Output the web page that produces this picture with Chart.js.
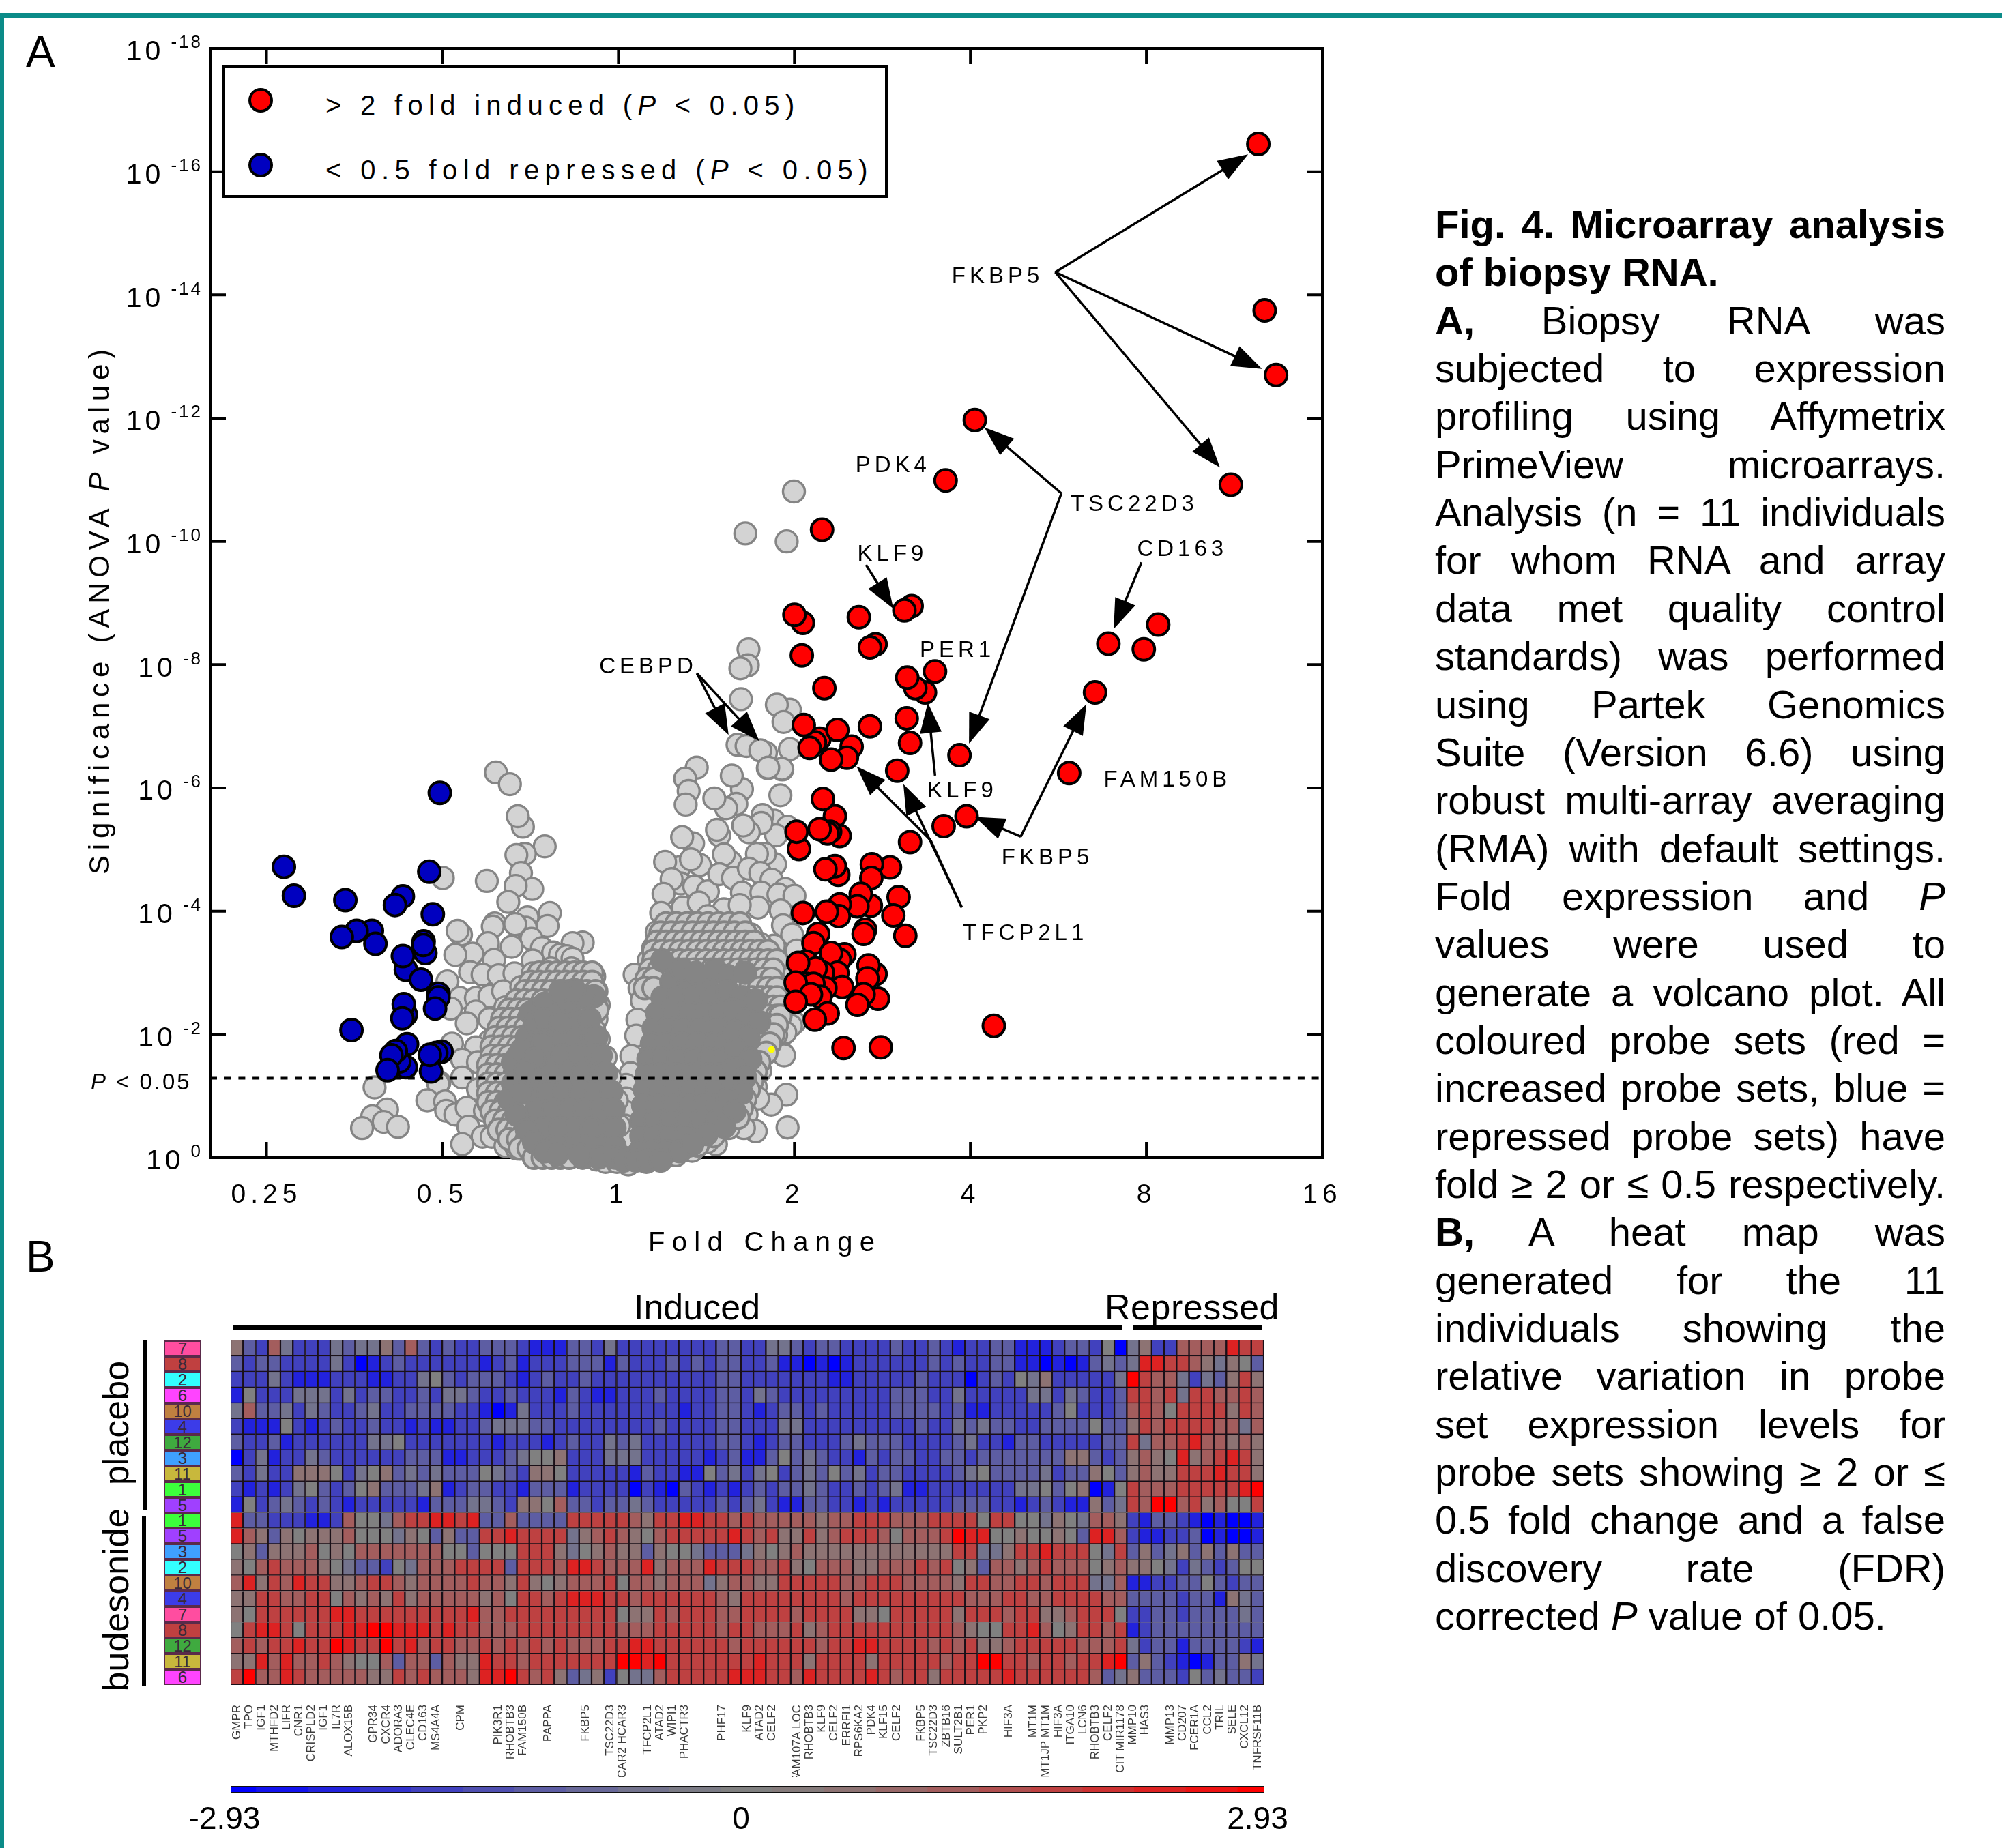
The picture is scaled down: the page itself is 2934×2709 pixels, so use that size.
<!DOCTYPE html>
<html>
<head>
<meta charset="utf-8">
<title>Fig. 4</title>
<script src="https://cdn.jsdelivr.net/npm/chart.js@4/dist/chart.umd.min.js"></script>
<style>
  html, body { margin: 0; padding: 0; background: #fff; }
  body { width: 2934px; height: 2709px; position: relative; overflow: hidden; font-family: "Liberation Sans", Arial, sans-serif; color: #000; }
  canvas, .abs { position: absolute; }
  .line { position: absolute; left: 2103px; width: 748px; font-size: 58px; line-height: 70.35px; height: 70.35px; text-align: justify; text-align-last: justify; }
  .line.end { text-align-last: left; width: 800px; }
  .rot { position: absolute; white-space: nowrap; transform: translate(-50%, -50%) rotate(-90deg); }
  .patch { position: absolute; left: 240px; width: 55px; box-sizing: border-box; border: 2px solid #5a2a4a; font-size: 24px; line-height: 19px; text-align: center; color: #3a2a3a; }
</style>
</head>
<body>
<div class="abs" style="left:0;top:19px;width:2934px;height:8px;background:#0b8b88"></div>
<div class="abs" style="left:0;top:19px;width:6px;height:2690px;background:#0b8b88"></div>
<div class="abs" style="left:38px;top:41px;font-size:64px;line-height:70px">A</div>
<div class="abs" style="left:38px;top:1807px;font-size:64px;line-height:70px">B</div>

<canvas id="volcano" width="2000" height="1900" style="left:0;top:0"></canvas>
<canvas id="heat" width="1514" height="640" style="left:338px;top:1965px"></canvas>
<canvas id="colorbar" width="1620" height="90" style="left:278px;top:2610px"></canvas>

<div class="abs" style="left:326px;top:95px;width:975px;height:195px;box-sizing:border-box;border:4px solid #000;background:#fff"></div>
<div class="abs" style="left:364px;top:129px;width:36px;height:36px;box-sizing:border-box;border:4px solid #000;border-radius:50%;background:#f00"></div>
<div class="abs" style="left:364px;top:224px;width:36px;height:36px;box-sizing:border-box;border:4px solid #000;border-radius:50%;background:#0000c0"></div>
<div class="abs" style="left:477px;top:130px;font-size:40px;line-height:48px;letter-spacing:8.3px;white-space:nowrap">&gt; 2 fold induced (<i>P</i> &lt; 0.05)</div>
<div class="abs" style="left:477px;top:225px;font-size:40px;line-height:48px;letter-spacing:8.4px;white-space:nowrap">&lt; 0.5 fold repressed (<i>P</i> &lt; 0.05)</div>

<div class="rot" style="left:146px;top:893px;font-size:42px;letter-spacing:7.8px">Significance (ANOVA <i>P</i> value)</div>
<div class="abs" style="left:950px;top:1796px;font-size:40px;line-height:48px;letter-spacing:10.3px;white-space:nowrap">Fold Change</div>

<div class="abs" style="left:929px;top:1885px;font-size:52px;line-height:62px">Induced</div>
<div class="abs" style="left:1619px;top:1885px;font-size:52px;line-height:62px;letter-spacing:0.5px">Repressed</div>
<div class="abs" style="left:342px;top:1942px;width:1303px;height:7px;background:#000"></div>
<div class="abs" style="left:1660px;top:1942px;width:190px;height:7px;background:#000"></div>
<div class="abs" style="left:210px;top:1964px;width:6px;height:249px;background:#000"></div>
<div class="abs" style="left:208px;top:2222px;width:6px;height:249px;background:#000"></div>
<div class="rot" style="left:170px;top:2086px;font-size:52px">placebo</div>
<div class="rot" style="left:170px;top:2345px;font-size:52px">budesonide</div>
<div id="patches"></div>
<div id="caption"></div>

<script>
// ---------- VOLCANO DATA (log2 fold change, -log10 P) ----------
const foldTicks = [0.25, 0.5, 1, 2, 4, 8, 16];
const pThreshold = 1.29;

const redPoints = [
  [3.636,16.45],[3.672,13.75],[3.737,12.7],[2.025,11.97],[1.859,10.99],[3.48,10.92],[1.157,10.19],[1.666,8.95],
  [1.625,8.88],[1.366,8.77],[1.048,8.68],[1.0,8.81],[1.461,8.33],[1.429,8.28],[1.042,8.15],[3.067,8.65],
  [2.784,8.34],[2.985,8.25],[1.799,7.89],[1.742,7.55],[1.687,7.62],[1.641,7.79],[1.17,7.62],[2.708,7.55],
  [1.638,7.13],[1.429,7.0],[1.143,6.8],[1.116,6.74],[1.053,7.02],[1.244,6.94],[1.657,6.73],[1.325,6.67],
  [1.086,6.65],[1.938,6.53],[1.298,6.49],[1.208,6.46],[1.584,6.28],[2.561,6.24],[1.23,5.54],[1.162,5.82],
  [1.978,5.54],[1.848,5.38],[1.257,5.22],[1.203,5.29],[1.189,5.26],[1.026,5.01],[1.012,5.29],[1.143,5.33],
  [1.657,5.12],[1.543,4.71],[1.44,4.76],[1.249,4.59],[1.23,4.73],[1.176,4.68],[1.437,4.54],[1.592,4.23],
  [1.434,4.09],[1.377,4.28],[1.358,4.08],[1.257,4.11],[1.562,3.93],[1.252,3.92],[1.184,3.99],[1.048,3.97],
  [1.402,3.7],[1.393,3.63],[1.63,3.6],[1.135,3.63],[1.108,3.48],[1.284,3.3],[1.257,3.21],[1.208,3.32],
  [1.461,2.98],[1.421,3.12],[1.415,2.91],[1.244,3.0],[1.067,3.18],[1.162,3.0],[1.121,3.07],[1.021,3.16],
  [1.271,2.77],[1.176,2.75],[1.067,2.82],[1.108,2.82],[1.007,2.84],[1.475,2.58],[1.393,2.65],[1.148,2.61],
  [1.094,2.65],[1.007,2.53],[1.358,2.48],[1.189,2.34],[1.116,2.24],[2.133,2.14],[1.279,1.78],[1.491,1.79]
];
const bluePoints = [
  [-1.015,5.92],[-1.901,4.72],[-1.844,4.25],[-1.552,4.18],[-1.075,4.64],[-1.225,4.24],[-1.27,4.1],[-1.055,3.95],
  [-1.401,3.68],[-1.381,3.47],[-1.488,3.68],[-1.572,3.58],[-1.107,3.51],[-1.097,3.32],[-1.109,3.45],[-1.208,3.05],
  [-1.225,3.27],[-1.122,2.89],[-1.023,2.66],[-1.023,2.6],[-1.042,2.42],[-1.208,2.32],[-1.22,2.49],[-1.228,2.26],
  [-1.517,2.07],[-1.201,1.84],[-1.208,1.47],[-1.245,1.56],[-1.265,1.73],[-1.29,1.66],[-1.005,1.72],[-1.035,1.7],
  [-1.065,1.4],[-1.072,1.67],[-1.312,1.42]
];
const grayPoints = [
  // top stragglers
  [0.997,10.81],[0.721,10.13],[0.956,10.0],[0.739,8.25],[0.735,7.99],[0.693,7.94],[0.696,7.44],[0.974,7.27],[0.9,7.35],[0.938,7.07],
  [0.677,6.7],[0.728,6.68],[0.838,6.57],[0.806,6.61],[0.974,6.63],[0.849,6.32],[0.931,6.3],
  // right arm, upper
  [0.445,6.33],[0.379,6.15],[0.399,5.95],[0.382,5.73],[0.702,5.98],[0.644,6.2],[0.67,5.74],[0.612,5.67],[0.545,5.83],[0.92,5.88],
  [0.929,6.31],[0.851,6.33],[0.883,5.47],[0.961,5.37],[0.896,5.23],[0.819,5.56],[0.812,5.43],[0.741,5.28],[0.709,5.39],[0.573,5.23],[0.56,5.32],
  [0.424,5.1],[0.362,5.2],[0.89,4.76],[0.832,4.93],[0.787,4.93],[0.638,4.8],[0.599,4.92],[0.463,4.75],[0.347,4.71],[0.412,4.84],[0.265,4.8],
  [0.353,4.45],[0.302,4.52],[0.256,4.28],[0.431,4.4],[0.508,4.32],[0.573,4.6],[0.651,4.54],[0.741,4.69],[0.806,4.62],[0.87,4.51],
  [0.702,4.3],[0.812,4.3],[0.948,4.36],[0.909,4.27],[1.0,4.25],[0.793,4.06],[0.599,4.03],[0.922,4.01],[0.366,4.06],[0.457,4.14],[0.689,4.1],
  [0.243,3.97],[0.508,3.92],[0.315,3.8],[0.418,3.8],[0.625,3.69],[0.754,3.62],[0.935,3.77],[0.987,3.62],[0.218,3.66],[0.883,3.44],[0.806,3.47],
  [0.702,3.51],[0.56,3.62],[0.47,3.55],[0.366,3.47],[0.289,3.36],[1.013,3.36],[0.198,3.4],[0.172,3.2],[0.24,3.07],[0.35,3.07],[0.47,3.07],
  [0.57,3.07],[0.68,3.07],[0.78,3.07],[0.845,3.07],[1.0,3.1],[0.97,2.9],
  // right arm, lower and edges
  [0.092,2.97],[0.12,2.75],[0.22,2.8],[0.33,2.8],[0.45,2.8],[0.56,2.8],[0.67,2.8],[0.883,2.88],[0.728,2.81],[0.625,2.96],[0.133,2.55],
  [0.806,2.7],[0.896,2.66],[0.638,2.66],[0.935,2.48],[0.819,2.44],[0.702,2.48],[0.108,2.24],[1.0,2.19],[0.98,2.14],[0.857,2.22],[0.767,2.25],[0.599,2.33],
  [0.948,2.03],[0.896,1.99],[0.702,2.07],[0.101,1.98],[0.78,1.92],[0.676,1.77],[0.935,1.68],[0.941,1.66],[0.832,1.7],[0.741,1.59],[0.073,1.65],
  [0.806,1.41],[0.65,1.44],[0.069,1.37],[0.78,1.15],[0.715,1.22],[0.65,1.04],[0.043,1.18],[0.043,0.96],[0.954,1.02],[0.868,0.86],[0.793,0.96],
  [0.676,0.8],[0.728,0.7],[0.043,0.74],[0.961,0.49],[0.78,0.43],[0.713,0.48],[0.625,0.48],[0.599,0.67],[0.036,0.52],[0.554,0.22],[0.508,0.26],
  [0.043,0.26],[0.418,0.11],[0.327,0.04],[0.237,0],[0.03,0],[0.159,-0.07],[0.056,-0.11],[0.082,0],[-0.015,0],
  // left arm, upper
  [-0.696,6.25],[-0.617,6.06],[-0.543,5.37],[-0.572,5.54],[-0.419,5.05],[-0.532,4.93],[-0.58,4.91],[-0.554,4.62],[-0.998,4.54],[-0.748,4.49],
  [-0.49,4.36],[-0.584,4.41],[-0.626,4.15],[-0.39,3.97],[-0.517,3.9],[-0.703,3.8],[-0.714,3.75],[-0.526,3.73],[-0.403,3.76],[-0.587,3.79],
  [-0.895,3.62],[-0.914,3.68],[-0.203,3.49],[-0.261,3.48],[-0.494,3.55],[-0.435,3.4],[-0.742,3.48],[-0.607,3.42],[-0.83,3.31],[-0.927,3.29],
  [-0.707,3.21],[-0.487,3.2],[-0.371,3.33],[-0.332,3.29],[-0.293,3.27],[-0.261,3.23],
  // left arm, middle
  [-0.972,2.86],[-0.843,3.01],[-0.772,2.97],[-0.681,2.96],[-0.591,2.99],[-0.487,2.99],[-0.384,3.07],[-0.267,3.07],[-0.138,2.94],
  [-0.901,2.59],[-0.81,2.59],[-0.733,2.62],[-0.655,2.7],[-0.552,2.77],[-0.461,2.81],[-0.358,2.77],[-0.255,2.77],[-0.125,2.7],[-0.112,2.48],
  [-0.953,2.42],[-0.81,2.37],[-0.642,2.44],[-0.552,2.48],[-0.461,2.51],[-0.358,2.51],[-0.255,2.48],[-0.151,2.44],[-0.125,2.25],[-0.733,2.25],
  [-0.862,2.18],[-0.655,2.18],[-0.552,2.18],[-0.448,2.22],[-0.345,2.22],[-0.242,2.22],[-0.138,2.07],
  [-0.946,1.85],[-0.733,1.89],[-0.642,1.92],[-0.539,1.96],[-0.436,1.96],[-0.332,1.96],[-0.229,1.92],[-0.112,1.92],[-0.81,1.79],
  [-0.72,1.59],[-0.617,1.63],[-0.513,1.63],[-0.41,1.63],[-0.306,1.63],[-0.203,1.63],[-0.073,1.63],[-0.888,1.59],[-0.798,1.55],
  [-1.017,1.22],[-1.024,1.2],[-0.888,1.3],[-0.707,1.15],[-0.604,1.22],[-0.5,1.3],[-0.397,1.3],[-0.293,1.3],[-0.19,1.3],[-0.048,1.3],[-0.798,1.11],
  // left arm, bottom
  [-1.386,1.14],[-1.315,0.78],[-1.399,0.67],[-1.334,0.58],[-1.253,0.5],[-1.457,0.48],[-1.086,0.93],[-0.985,0.91],[-0.979,0.76],[-0.927,0.7],
  [-0.862,0.81],[-0.759,0.76],[-0.655,0.81],[-0.552,0.89],[-0.448,0.93],[-0.345,0.93],[-0.242,0.93],[-0.138,0.93],[-0.009,0.93],
  [-0.853,0.5],[-0.772,0.34],[-0.72,0.34],[-0.565,0.52],[-0.461,0.52],[-0.358,0.52],[-0.255,0.52],[-0.151,0.52],[0.004,0.52],
  [-0.888,0.22],[-0.642,0.19],[-0.578,0.15],[-0.487,0.11],[-0.41,0.08],[-0.293,0.04],[-0.203,0],[-0.125,-0.03],[-0.073,-0.07],[-0.009,-0.07]
];
// tightly packed discs between the sparse edge and the solid centre
const grayMidPoints = [
  [-0.45,3.0],[-0.4,3.0],[-0.35,3.0],[-0.3,3.0],[-0.25,3.0],[-0.2,3.0],[-0.15,3.0],
  [-0.5,2.85],[-0.45,2.85],[-0.4,2.85],[-0.35,2.85],[-0.3,2.85],[-0.25,2.85],[-0.2,2.85],[-0.15,2.85],
  [-0.53,2.7],[-0.48,2.7],[-0.43,2.7],[-0.38,2.7],[-0.33,2.7],[-0.28,2.7],[-0.23,2.7],[-0.18,2.7],[-0.13,2.7],
  [-0.58,2.55],[-0.53,2.55],[-0.48,2.55],[-0.43,2.55],[-0.38,2.55],[-0.33,2.55],[-0.28,2.55],[-0.23,2.55],[-0.18,2.55],[-0.13,2.55],
  [-0.62,2.4],[-0.57,2.4],[-0.52,2.4],[-0.47,2.4],[-0.42,2.4],[-0.37,2.4],[-0.32,2.4],[-0.27,2.4],[-0.22,2.4],[-0.17,2.4],[-0.12,2.4],
  [-0.66,2.25],[-0.61,2.25],[-0.56,2.25],[-0.51,2.25],[-0.46,2.25],[-0.41,2.25],[-0.36,2.25],[-0.31,2.25],[-0.26,2.25],[-0.21,2.25],
  [-0.68,2.1],[-0.63,2.1],[-0.58,2.1],[-0.53,2.1],[-0.48,2.1],[-0.43,2.1],[-0.38,2.1],[-0.33,2.1],[-0.28,2.1],[-0.23,2.1],
  [-0.7,1.95],[-0.65,1.95],[-0.6,1.95],[-0.55,1.95],[-0.5,1.95],[-0.45,1.95],[-0.4,1.95],[-0.36,1.95],
  [-0.72,1.8],[-0.67,1.8],[-0.62,1.8],[-0.57,1.8],[-0.52,1.8],[-0.47,1.8],[-0.42,1.8],[-0.36,1.8],
  [-0.72,1.65],[-0.67,1.65],[-0.62,1.65],[-0.57,1.65],[-0.52,1.65],[-0.47,1.65],[-0.42,1.65],
  [-0.74,1.5],[-0.69,1.5],[-0.64,1.5],[-0.59,1.5],[-0.54,1.5],[-0.49,1.5],[-0.44,1.5],
  [-0.74,1.35],[-0.69,1.35],[-0.64,1.35],[-0.59,1.35],[-0.54,1.35],[-0.49,1.35],
  [-0.74,1.2],[-0.69,1.2],[-0.64,1.2],[-0.59,1.2],[-0.54,1.2],[-0.49,1.2],
  [-0.74,1.05],[-0.69,1.05],[-0.64,1.05],[-0.59,1.05],[-0.54,1.05],[-0.49,1.05],
  [-0.74,0.9],[-0.69,0.9],[-0.64,0.9],[-0.59,0.9],[-0.54,0.9],[-0.49,0.9],[-0.44,0.9],
  [-0.72,0.75],[-0.67,0.75],[-0.62,0.75],[-0.57,0.75],[-0.52,0.75],[-0.47,0.75],
  [-0.7,0.6],[-0.65,0.6],[-0.6,0.6],[-0.55,0.6],[-0.5,0.6],[-0.45,0.6],
  [-0.68,0.45],[-0.63,0.45],[-0.58,0.45],[-0.53,0.45],[-0.48,0.45],[-0.43,0.45],
  [-0.62,0.3],[-0.57,0.3],[-0.52,0.3],[-0.47,0.3],[-0.42,0.3],[-0.37,0.3],
  [-0.56,0.15],[-0.51,0.15],[-0.46,0.15],[-0.41,0.15],[-0.36,0.15],
  [-0.48,0.0],[-0.43,0.0],[-0.38,0.0],[-0.33,0.0],[-0.28,0.0],
  [0.27,3.8],[0.33,3.8],[0.39,3.8],[0.45,3.8],[0.51,3.8],[0.57,3.8],[0.63,3.8],[0.69,3.8],
  [0.24,3.65],[0.3,3.65],[0.36,3.65],[0.42,3.65],[0.48,3.65],[0.54,3.65],[0.6,3.65],[0.66,3.65],[0.72,3.65],
  [0.22,3.5],[0.27,3.5],[0.32,3.5],[0.37,3.5],[0.42,3.5],[0.47,3.5],[0.52,3.5],[0.57,3.5],[0.62,3.5],[0.67,3.5],[0.72,3.5],[0.77,3.5],
  [0.2,3.35],[0.25,3.35],[0.3,3.35],[0.35,3.35],[0.4,3.35],[0.45,3.35],[0.5,3.35],[0.55,3.35],[0.6,3.35],[0.65,3.35],[0.7,3.35],[0.75,3.35],[0.8,3.35],[0.85,3.35],
  [0.2,3.2],[0.25,3.2],[0.3,3.2],[0.35,3.2],[0.4,3.2],[0.45,3.2],[0.5,3.2],[0.55,3.2],[0.6,3.2],[0.65,3.2],[0.7,3.2],[0.75,3.2],[0.8,3.2],[0.85,3.2],[0.9,3.2],
  [0.18,3.05],[0.23,3.05],[0.28,3.05],[0.33,3.05],[0.38,3.05],[0.43,3.05],[0.48,3.05],[0.53,3.05],[0.58,3.05],[0.63,3.05],[0.68,3.05],[0.73,3.05],[0.78,3.05],[0.83,3.05],[0.88,3.05],
  [0.16,2.9],[0.2,2.9],[0.52,2.9],[0.57,2.9],[0.62,2.9],[0.67,2.9],[0.72,2.9],[0.77,2.9],[0.82,2.9],[0.87,2.9],
  [0.15,2.75],[0.2,2.75],[0.55,2.75],[0.6,2.75],[0.65,2.75],[0.7,2.75],[0.75,2.75],[0.8,2.75],[0.85,2.75],[0.9,2.75],
  [0.56,2.6],[0.61,2.6],[0.66,2.6],[0.71,2.6],[0.76,2.6],[0.81,2.6],[0.86,2.6],[0.9,2.6],
  [0.58,2.45],[0.63,2.45],[0.68,2.45],[0.73,2.45],[0.78,2.45],[0.83,2.45],[0.88,2.45],[0.92,2.45],
  [0.6,2.3],[0.65,2.3],[0.7,2.3],[0.75,2.3],[0.8,2.3],[0.85,2.3],[0.9,2.3],[0.92,2.3],
  [0.6,2.15],[0.65,2.15],[0.7,2.15],[0.75,2.15],[0.8,2.15],[0.85,2.15],[0.9,2.15],
  [0.62,2.0],[0.67,2.0],[0.72,2.0],[0.77,2.0],[0.82,2.0],[0.88,2.0],
  [0.62,1.85],[0.67,1.85],[0.72,1.85],[0.77,1.85],[0.82,1.85],[0.86,1.85],
  [0.62,1.7],[0.67,1.7],[0.72,1.7],[0.77,1.7],[0.84,1.7],
  [0.62,1.55],[0.67,1.55],[0.72,1.55],[0.77,1.55],[0.8,1.55],
  [0.6,1.4],[0.65,1.4],[0.7,1.4],[0.75,1.4],[0.78,1.4],
  [0.58,1.25],[0.63,1.25],[0.68,1.25],[0.73,1.25],[0.76,1.25],
  [0.58,1.1],[0.63,1.1],[0.68,1.1],[0.74,1.1],
  [0.56,0.95],[0.61,0.95],[0.66,0.95],[0.72,0.95],
  [0.55,0.8],[0.6,0.8],[0.65,0.8],[0.7,0.8],
  [0.53,0.65],[0.58,0.65],[0.63,0.65],[0.68,0.65],
  [0.5,0.5],[0.55,0.5],[0.6,0.5],
  [0.44,0.35],[0.49,0.35],[0.54,0.35],
  [0.4,0.2],[0.45,0.2]
];
// where the probe sets pile up the outlines merge into solid grey
const grayCorePoints = [
  [-0.19,2.62],[-0.14,2.62],[-0.255,2.25],[-0.164,2.25],[-0.332,1.96],[-0.242,1.96],[-0.151,1.96],[-0.125,1.96],
  [-0.41,1.66],[-0.319,1.66],[-0.229,1.66],[-0.125,1.66],[-0.1,1.66],[-0.474,1.37],[-0.384,1.37],[-0.293,1.37],[-0.203,1.37],[-0.099,1.37],[-0.07,1.37],
  [-0.487,1.07],[-0.397,1.07],[-0.306,1.07],[-0.216,1.07],[-0.125,1.07],[-0.048,1.07],[-0.04,1.07],
  [-0.461,0.78],[-0.371,0.78],[-0.28,0.78],[-0.19,0.78],[-0.099,0.78],[-0.028,0.78],
  [-0.423,0.48],[-0.332,0.48],[-0.242,0.48],[-0.151,0.48],[-0.06,0.48],[-0.022,0.48],
  [-0.332,0.19],[-0.242,0.19],[-0.151,0.19],[-0.06,0.19],[-0.022,0.19],[-0.203,0],[-0.112,0],[-0.022,0],
  [0.3,2.85],[0.4,2.85],[0.5,2.85],[0.25,2.6],[0.34,2.6],[0.43,2.6],[0.53,2.6],[0.22,2.35],[0.31,2.35],[0.4,2.35],[0.49,2.35],[0.58,2.35],
  [0.2,2.1],[0.28,2.1],[0.37,2.1],[0.46,2.1],[0.55,2.1],[0.19,1.85],[0.27,1.85],[0.36,1.85],[0.45,1.85],[0.54,1.85],[0.6,1.85],
  [0.17,1.6],[0.25,1.6],[0.34,1.6],[0.43,1.6],[0.52,1.6],[0.6,1.6],[0.16,1.35],[0.24,1.35],[0.33,1.35],[0.42,1.35],[0.51,1.35],[0.58,1.35],
  [0.15,1.1],[0.23,1.1],[0.32,1.1],[0.41,1.1],[0.5,1.1],[0.56,1.1],[0.14,0.85],[0.22,0.85],[0.31,0.85],[0.4,0.85],[0.49,0.85],[0.55,0.85],
  [0.13,0.6],[0.21,0.6],[0.3,0.6],[0.39,0.6],[0.47,0.6],[0.13,0.35],[0.2,0.35],[0.29,0.35],[0.38,0.35],[0.12,0.1],[0.2,0.1],[0.28,0.1],[0.35,0.1],
  [0.03,-0.05],[0.1,-0.05],[0.17,-0.05],[0.24,-0.05],
  // irregular dark patches reaching out from the centre
  [-0.5,2.35],[-0.42,2.5],[-0.35,2.35],[-0.28,2.55],[-0.52,1.95],[-0.45,2.1],[-0.6,1.55],[-0.55,1.75],[-0.43,1.85],[-0.48,1.6],[-0.6,1.2],[-0.53,1.4],[-0.62,0.95],[-0.55,1.05],
  [-0.58,0.7],[-0.52,0.45],[-0.48,0.25],[-0.42,0.1],[-0.35,0.05],[-0.22,0.05],[-0.2,2.6],[-0.25,2.72],[-0.33,2.7],
  [-0.47,2.2],[-0.42,2.25],[-0.33,2.2],
  [0.25,3.2],[0.36,3.05],[0.44,3.0],[0.55,3.05],[0.62,2.95],[0.72,3.0],[0.62,2.7],[0.7,2.6],[0.78,2.55],[0.65,2.4],[0.72,2.25],[0.8,2.2],
  [0.66,2.05],[0.74,1.95],[0.67,1.75],[0.75,1.6],[0.66,1.45],[0.72,1.3],[0.64,1.2],[0.7,1.05],[0.62,0.95],[0.66,0.75],[0.56,0.6],[0.5,0.38],
  [0.42,0.22],[0.6,0.5]
];
const yellowPoints = [[0.87,1.755]];

// ---------- ANNOTATIONS ----------
// [fromX, fromY, toX, toY, hasHead]
const arrowLines = [
  [2.482,14.37,3.578,16.28,1],[2.482,14.37,3.657,12.8,1],[2.482,14.37,3.418,11.2,1],
  [2.517,10.78,2.079,11.85,1],[2.517,10.78,1.992,6.72,1],
  [1.407,9.62,1.562,8.91,1],[1.799,6.2,1.758,7.38,1],
  [1.951,4.06,1.619,6.06,1],[1.951,4.06,1.774,5.15,0],[1.774,5.15,1.353,6.35,1],
  [0.446,7.86,0.626,6.86,1],[0.446,7.86,0.8,6.76,1],
  [2.286,5.21,2.025,5.53,1],[2.286,5.21,2.659,7.36,1],
  [2.972,9.66,2.814,8.58,1]
];
// [text, x, y of baseline]
const geneNotes = [
  ["FKBP5",1.894,14.19],["PDK4",1.347,11.13],["TSC22D3",2.569,10.5],["KLF9",1.358,9.69],["CD163",2.947,9.76],["PER1",1.712,8.12],
  ["CEBPD",-0.109,7.864],["KLF9",1.755,5.84],["FAM150B",2.757,6.02],["FKBP5",2.177,4.76],["TFCP2L1",1.957,3.53]
];

// ---------- HEAT MAP DATA (levels, one level = 2.93 / 5) ----------
const levelStep = 2.93 / 5;
const rowIds = [7,8,2,6,10,4,12,3,11,1,5,1,5,3,2,10,4,7,8,12,11,6];
const idColors = {1:"#3cff3c",2:"#33ffff",3:"#3fa0ff",4:"#3c3ce8",5:"#a040ff",6:"#ff44ff",7:"#ff4da0",8:"#c04040",10:"#c08040",11:"#c8b83c",12:"#3faa3f"};
const geneLabels = ["GMPR","TPO","IGF1","MTHFD2","LIFR","CNR1","CRISPLD2","IGF1","IL7R","ALOX15B","","GPR34","CXCR4","ADORA3","CLEC4E","CD163","MS4A4A","","CPM","","","PIK3R1","RHOBTB3","FAM150B","","PAPPA","","","FKBP5","","TSC22D3","HCAR2 HCAR3","","TFCP2L1","ATAD2","WIPI1","PHACTR3","","","PHF17","","KLF9","ATAD2","CELF2","","FAM107A LOC","RHOBTB3","KLF9","CELF2","ERRFI1","RPS6KA2","PDK4","KLF15","CELF2","","FKBP5","TSC22D3","ZBTB16","SULT2B1","PER1","PKP2","","HIF3A","","MT1M","MT1JP MT1M","HIF3A","ITGA10","LCN6","RHOBTB3","CELF2","CIT MIR1178","MMP10","HAS3","","MMP13","CD207","FCER1A","CCL2","TRIL","SELE","CXCL12","TNFRSF11B"];
const heatRows = [
  [1,-2,-3,2,-1,-3,-3,-3,-1,-2,-1,-1,1,-2,2,-2,-3,-2,-3,-3,-2,-2,-2,-3,-4,-4,-4,-2,-2,-3,-1,-3,-3,-3,-3,-3,-3,-3,-3,-2,-2,-3,
   -3,-1,-1,-2,-3,-2,-2,-3,-3,-3,-3,-2,-3,-3,-2,-3,-4,-3,-3,-2,-2,-4,-4,-4,-3,-2,-2,-3,0,-5,-1,1,-3,-3,2,2,2,2,4,3,3],
  [-2,-3,-2,-2,-3,-3,-3,-3,-1,-3,-5,-4,-3,-2,-3,-3,-3,-3,-3,-3,-4,-3,-2,-4,-3,-3,-3,-2,-2,-2,-4,-2,-3,-3,-3,-2,-3,-2,-3,-2,-2,-3,
   -3,-2,-4,-4,-5,-4,-5,-4,-3,-3,-3,-3,-3,-3,-2,-3,-2,-3,-3,-2,-2,-4,-4,-5,-4,-5,-4,-2,-1,-2,-1,4,4,3,3,2,1,-1,1,0,-2],
  [-3,-3,-3,-1,-3,-4,-4,-4,-3,-3,-3,-4,-4,-3,-3,-1,0,-2,-3,-2,-2,-2,-3,-4,-3,-2,-3,-3,-2,-3,-3,-3,-3,-3,-3,-3,-3,-3,-3,-2,-2,-3,
   -3,-3,-3,-3,-3,-3,-4,-4,-3,-3,-3,-3,-3,-2,-3,-3,-3,-5,-3,-2,-3,0,-1,1,-3,-3,-3,-3,-3,-1,5,3,2,2,-1,-3,-1,-2,1,3,1],
  [-4,0,-3,-3,-3,-1,-1,-1,-3,-1,-3,-2,-2,-3,-3,-2,-3,-1,-1,-2,-3,-3,-2,-3,-3,-3,-4,-2,-3,-4,-4,-3,-3,-3,-2,-3,-3,-3,-3,-2,-2,-3,
   -1,-2,-3,-3,-3,-3,-3,-3,-3,-3,-3,-2,-2,-2,-3,-3,-1,-3,-3,-3,-3,-3,-1,-1,-3,-1,-2,-3,-3,-2,3,3,2,3,-1,3,3,2,2,3,2],
  [-1,2,-2,-2,-1,-3,-1,-2,-3,-3,-2,-1,-3,-3,-2,-2,-2,-2,-3,-3,-4,-5,-4,-1,-3,-3,-3,-2,-3,-3,-3,-3,-3,-3,-3,-3,-4,-3,-3,-2,-2,-3,
   -4,-3,-2,-2,-3,-2,-3,-3,-3,-3,-3,-2,-2,-2,-2,-3,-2,-4,-4,-3,-3,-3,-3,-3,-2,0,-3,-3,-3,-2,2,3,2,0,3,3,3,3,1,3,2],
  [-3,-4,-4,-4,0,-3,-4,-3,-2,-3,-3,-2,-3,-3,-4,-3,-4,-4,-3,-3,-2,-1,-1,-1,-2,-2,-3,-3,-3,-3,-3,-3,-3,-3,-2,-3,-3,-3,-3,-2,-2,-3,
   -3,-3,-1,-1,-3,-3,-3,-3,-3,-3,-3,-3,-3,-2,-3,-3,-1,-2,-1,-2,-2,-3,-3,-2,-2,-2,-2,0,-2,-2,1,3,2,3,3,3,3,2,2,-1,2],
  [-2,-3,-3,-2,-4,-3,-3,-3,-3,-3,-3,-1,-1,0,-3,-3,-3,-3,-3,-3,-3,-4,-3,-3,-3,-4,-3,-2,-3,-3,-1,-2,-1,-3,-3,-3,-3,-3,-3,-2,-2,-3,
   -4,-3,-2,-2,-3,-3,-3,-2,-1,-2,-2,-2,-3,-3,-3,-3,-2,-1,-3,-3,-4,-2,-2,-3,-3,-3,-3,-3,-2,-2,3,-1,2,2,3,4,2,2,1,2,1],
  [-5,-3,-1,-4,-3,-3,-1,-2,-3,-3,-3,-3,-3,-3,-2,-2,-2,-4,-4,-3,-3,-3,-2,-1,0,0,1,-3,-3,-3,-1,-1,-1,-3,-3,-3,-3,-3,-4,-3,-2,-4,
   -4,-2,0,-2,-1,-2,-3,-3,-4,-2,-3,-2,-2,-3,-3,-2,-2,-3,-2,-2,-2,-2,-2,-2,-2,1,1,-2,-3,-2,1,2,1,0,4,1,2,3,4,3,1],
  [-2,-3,-1,-3,-3,1,1,1,0,-3,-1,0,1,-2,-1,-2,-1,-2,-2,-2,0,-1,-2,-3,1,1,0,-3,-3,-3,-3,-3,-4,-2,-3,-3,-4,-4,0,-2,-1,-3,
   -1,0,-3,-2,-1,-2,0,-2,-1,-3,-2,-2,-3,-3,-3,-3,-2,-1,0,-2,-2,-2,-2,-1,-3,-2,-2,1,0,-2,1,2,1,1,3,3,3,4,3,3,1],
  [-3,-4,-3,-4,-3,-1,0,-2,-3,-2,0,1,-2,-2,-2,-1,1,-4,-3,-2,-2,-3,-3,-4,-2,-2,-2,-4,-3,-3,-3,-3,-5,-3,-4,-5,-2,-3,-4,-3,-4,-3,
   -2,-3,-2,-2,-1,-2,-3,-3,-2,-3,-2,-1,-4,-4,-3,-3,-3,-3,-3,-3,-3,-1,-1,0,-2,0,1,-5,-4,0,3,2,2,2,3,3,3,3,3,4,5],
  [-4,0,-3,-2,-1,-2,-3,-2,-3,-4,-3,-3,-3,-3,-3,-4,-2,-2,-2,-1,-1,-2,-3,1,1,0,2,-2,-2,-3,-2,-2,-1,-2,-3,-3,-3,-3,-3,-2,-3,-2,
   -1,-3,-4,-4,-2,-2,-3,-3,-4,-3,-4,-3,-3,-3,-3,-3,-2,-2,-2,-3,-3,-4,-3,-2,-3,-4,-4,1,-2,-1,3,2,5,5,2,3,1,2,0,0,3],
  [4,-2,-2,-3,-3,-3,-4,-4,-3,2,0,0,-1,2,3,3,4,4,3,4,-2,-2,2,-2,-2,-2,-2,3,3,3,3,3,2,1,3,3,4,4,3,3,2,3,
   2,2,2,2,2,1,2,2,3,3,3,2,2,2,3,3,3,3,0,3,3,0,0,-1,1,0,-1,2,2,1,-3,-4,-2,-2,-3,-4,-5,-4,-5,-5,-4],
  [4,2,1,-2,1,0,1,1,1,2,0,0,0,-1,1,0,-2,1,-2,-2,3,3,4,3,3,3,3,-1,1,2,3,2,1,0,2,3,3,3,3,3,4,3,
   2,3,1,1,3,1,2,3,3,3,2,0,2,2,2,3,5,4,4,0,0,1,0,0,1,0,-2,4,4,2,-3,-4,-4,-3,-3,-2,-5,-4,-5,-5,-4],
  [0,1,-2,1,1,1,2,0,1,0,2,2,2,2,2,2,2,0,0,-2,0,0,0,3,3,3,1,-1,0,1,2,1,1,-2,1,0,0,-1,-2,-2,-2,-1,
   1,0,1,2,1,1,1,1,1,1,1,1,1,1,1,1,3,3,-1,-1,1,3,3,4,3,3,3,0,-1,3,-2,1,-2,-1,1,-2,1,-2,1,-2,-2],
  [1,0,2,3,2,2,2,1,0,-1,-2,-2,-3,0,-1,2,2,2,3,3,3,3,-2,3,3,3,2,4,4,3,2,2,2,4,1,2,2,2,4,3,3,3,
   2,2,3,1,0,2,2,2,1,1,2,2,2,3,2,3,0,1,-2,2,2,1,2,3,2,2,2,0,1,2,1,1,0,-1,-3,-1,-2,-3,-2,0,0],
  [2,4,1,3,2,4,3,3,1,1,2,3,3,2,1,2,2,2,2,3,2,2,1,3,1,0,1,2,2,2,3,0,2,2,1,2,2,2,-1,1,2,2,
   1,1,3,3,3,3,3,2,2,3,3,3,2,2,2,2,1,3,3,2,2,3,3,2,3,3,3,-1,-1,2,-4,-4,-3,-3,-2,-2,0,-2,-3,-2,-2],
  [1,1,3,3,2,2,3,3,0,2,1,2,1,3,1,2,2,2,2,2,1,2,0,3,3,2,3,4,4,4,3,3,2,3,3,3,3,3,3,2,1,3,
   3,3,3,3,3,3,3,2,3,3,3,3,3,3,3,3,3,2,2,2,3,3,2,2,3,3,3,3,2,2,-2,-2,-2,-2,-3,-2,-2,-4,1,-1,-2],
  [1,0,3,3,3,3,3,3,4,4,3,3,3,3,3,3,3,3,3,4,2,2,3,3,3,3,3,3,3,3,3,0,1,1,3,2,3,3,3,2,2,3,
   3,3,3,2,3,3,3,3,1,1,0,3,3,3,3,3,1,3,3,3,2,3,3,1,1,2,3,3,3,0,-3,-3,-2,-2,-3,-2,-2,-2,-2,-1,-2],
  [0,3,4,4,3,0,3,3,3,4,4,5,5,4,4,4,3,4,3,3,2,2,2,3,3,3,3,3,3,3,3,2,2,2,3,3,3,3,3,2,3,3,
   2,2,2,3,1,2,3,3,3,3,3,3,3,3,3,3,2,1,0,0,3,3,4,2,0,1,3,3,2,3,-4,-3,-2,-2,-2,-2,-2,-2,-2,-2,-2],
  [2,3,2,3,3,4,3,3,5,4,3,3,5,3,4,2,3,3,2,2,3,2,3,2,3,2,3,2,2,2,3,3,4,4,3,3,3,3,3,3,2,3,
   3,3,3,3,3,2,3,3,4,4,3,3,3,3,2,3,2,3,1,1,2,3,3,3,3,3,2,2,2,3,-1,-3,-2,-2,-4,-2,-2,-2,-2,-3,-4],
  [1,1,4,2,4,2,2,3,2,1,0,0,2,-2,2,2,-2,2,1,1,4,3,3,2,3,3,3,3,3,3,3,5,5,4,5,3,3,3,3,3,3,3,
   4,3,3,3,1,3,3,3,3,1,3,3,3,3,3,2,3,3,5,5,3,3,2,3,3,2,3,3,4,5,-2,1,-2,-3,-4,-5,-4,-2,-2,1,-1],
  [3,5,2,2,4,3,2,2,2,2,2,1,1,3,2,3,2,2,2,1,4,4,5,3,2,3,1,-2,-1,1,-3,0,-1,-1,2,3,3,3,3,3,4,4,
   4,3,3,2,4,3,3,3,3,4,3,2,3,3,1,3,3,3,3,3,4,3,3,3,3,3,3,2,-2,-1,1,-2,-2,-2,-3,0,-2,-1,-2,-2,-3]
];
const scaleLevels = [-2.93,-2.637,-2.344,-2.051,-1.758,-1.465,-1.172,-0.879,-0.586,-0.293,0,0.293,0.586,0.879,1.172,1.465,1.758,2.051,2.344,2.637,2.93];
const scaleTicks = [-2.93, 0, 2.93];

// ---------- CAPTION ----------
const captionLines = [
  "<b>Fig. 4. Microarray analysis</b>","<b>of biopsy RNA.</b>","<b>A,</b> Biopsy RNA was","subjected to expression","profiling using Affymetrix",
  "PrimeView microarrays.","Analysis (n = 11 individuals","for whom RNA and array","data met quality control","standards) was performed",
  "using Partek Genomics","Suite (Version 6.6) using","robust multi-array averaging","(RMA) with default settings.","Fold expression and <i>P</i>",
  "values were used to","generate a volcano plot. All","coloured probe sets (red =","increased probe sets, blue =","repressed probe sets) have",
  "fold ≥ 2 or ≤ 0.5 respectively.","<b>B,</b> A heat map was","generated for the 11","individuals showing the","relative variation in probe",
  "set expression levels for","probe sets showing ≥ 2 or ≤","0.5 fold change and a false","discovery rate (FDR)","corrected <i>P</i> value of 0.05."
];
const leftAlignedLines = [1, 29];

// ---------- HELPERS ----------
const FONT = '"Liberation Sans", Arial, sans-serif';
const pts = (list) => list.map(([x, y]) => ({ x, y }));

function cellColor(v) {
  const t = Math.pow(Math.min(Math.abs(v) / 2.93, 1), 1.4);
  const hi = Math.round(128 + 127 * t);
  const lo = Math.round(128 * (1 - t));
  return v >= 0 ? `rgb(${hi},${lo},${lo})` : `rgb(${lo},${lo},${hi})`;
}

function dots(list, fill, edge, order, extra) {
  return Object.assign({
    data: pts(list), order, clip: false,
    pointRadius: 16, pointHoverRadius: 16, pointBorderWidth: 3.4,
    pointBackgroundColor: fill, pointBorderColor: edge
  }, extra || {});
}

function drawArrow(ctx, x0, y0, x1, y1, head) {
  const a = Math.atan2(y1 - y0, x1 - x0);
  const len = 44, half = 16;
  const ex = head ? x1 - Math.cos(a) * len * 0.8 : x1;
  const ey = head ? y1 - Math.sin(a) * len * 0.8 : y1;
  ctx.beginPath();
  ctx.moveTo(x0, y0);
  ctx.lineTo(ex, ey);
  ctx.stroke();
  if (!head) return;
  const bx = x1 - Math.cos(a) * len, by = y1 - Math.sin(a) * len;
  ctx.beginPath();
  ctx.moveTo(x1, y1);
  ctx.lineTo(bx - Math.sin(a) * half, by + Math.cos(a) * half);
  ctx.lineTo(bx + Math.sin(a) * half, by - Math.cos(a) * half);
  ctx.closePath();
  ctx.fill();
}

// ---------- VOLCANO DECORATION ----------
const volcanoDecor = {
  id: "volcanoDecor",
  beforeDraw(chart) {
    chart.ctx.letterSpacing = "7px";
  },
  beforeDatasetsDraw(chart) {
    const { ctx, chartArea: a, scales: { x, y } } = chart;
    const tick = 23;
    ctx.save();
    ctx.strokeStyle = "#000";
    ctx.lineWidth = 4;
    ctx.strokeRect(a.left, a.top, a.right - a.left, a.bottom - a.top);
    ctx.beginPath();
    y.ticks.forEach((t) => {
      const py = y.getPixelForValue(t.value);
      ctx.moveTo(a.left, py); ctx.lineTo(a.left + tick, py);
      ctx.moveTo(a.right, py); ctx.lineTo(a.right - tick, py);
    });
    x.ticks.forEach((t) => {
      const px = x.getPixelForValue(t.value);
      ctx.moveTo(px, a.bottom); ctx.lineTo(px, a.bottom - tick);
      ctx.moveTo(px, a.top); ctx.lineTo(px, a.top + tick);
    });
    ctx.stroke();

    // y tick labels with a raised exponent, right aligned as one piece
    ctx.fillStyle = "#000";
    ctx.textAlign = "right";
    ctx.textBaseline = "middle";
    y.ticks.forEach((t) => {
      const py = y.getPixelForValue(t.value);
      const exp = t.value === 0 ? "0" : "-" + t.value;
      ctx.font = `26px ${FONT}`;
      ctx.letterSpacing = "3px";
      ctx.fillText(exp, 297, py - 8);
      const w = ctx.measureText(exp).width;
      ctx.font = `41px ${FONT}`;
      ctx.letterSpacing = "5px";
      ctx.fillText("10", 297 - w - 10, py + 6);
    });
    ctx.restore();
  },
  afterDatasetsDraw(chart) {
    const { ctx, scales: { x, y } } = chart;
    ctx.save();
    ctx.strokeStyle = "#000";
    ctx.fillStyle = "#000";
    ctx.lineWidth = 3.5;
    arrowLines.forEach(([x0, y0, x1, y1, head]) => {
      drawArrow(ctx, x.getPixelForValue(x0), y.getPixelForValue(y0), x.getPixelForValue(x1), y.getPixelForValue(y1), head);
    });
    ctx.textAlign = "left";
    ctx.textBaseline = "alphabetic";
    ctx.font = `33px ${FONT}`;
    ctx.letterSpacing = "6px";
    geneNotes.forEach(([text, gx, gy]) => {
      ctx.fillText(text, x.getPixelForValue(gx), y.getPixelForValue(gy));
    });
    // threshold label sits left of the axis
    const by = y.getPixelForValue(1.107);
    ctx.font = `italic 33px ${FONT}`;
    ctx.letterSpacing = "3px";
    ctx.fillText("P", 133, by);
    ctx.font = `33px ${FONT}`;
    ctx.fillText("< 0.05", 170, by);
    ctx.restore();
  }
};

// ---------- VOLCANO ----------
new Chart(document.getElementById("volcano").getContext("2d"), {
  type: "scatter",
  data: {
    datasets: [
      dots(redPoints, "#ff0000", "#000000", 0, { label: "> 2 fold induced (P < 0.05)", pointBorderWidth: 4 }),
      dots(bluePoints, "#0000c0", "#000000", 1, { label: "< 0.5 fold repressed (P < 0.05)", pointBorderWidth: 4 }),
      { label: "P < 0.05", data: pts([[-2.32, pThreshold], [4, pThreshold]]), order: 2, showLine: true, pointRadius: 0, borderColor: "#000", borderWidth: 4, borderDash: [10, 10.7] },
      dots(yellowPoints, "#ffff00", "#ffff00", 3, { pointRadius: 5, pointHoverRadius: 5, pointBorderWidth: 0 }),
      dots(grayCorePoints, "#858585", "#858585", 4),
      dots(grayMidPoints, "#c9c9c9", "#858585", 5, { pointBorderWidth: 4 }),
      dots(grayPoints, "#d3d3d3", "#858585", 6)
    ]
  },
  options: {
    responsive: false,
    animation: false,
    devicePixelRatio: 1,
    layout: { autoPadding: false, padding: { top: 71, right: 62, left: 0, bottom: 0 } },
    plugins: { legend: { display: false }, tooltip: { enabled: false } },
    scales: {
      x: {
        type: "linear", min: -2.32, max: 4,
        afterFit: (s) => { s.height = 203; },
        afterBuildTicks: (s) => { s.ticks = foldTicks.map((f) => ({ value: Math.log2(f) })); },
        grid: { display: false },
        border: { display: false },
        ticks: {
          autoSkip: false, maxRotation: 0, padding: 24, color: "#000",
          font: { family: FONT, size: 39 },
          callback: (v) => String(Math.pow(2, v))
        }
      },
      y: {
        type: "linear", min: 0, max: 18,
        afterFit: (s) => { s.width = 308; },
        grid: { display: false },
        border: { display: false },
        ticks: { stepSize: 2, display: false }
      }
    }
  },
  plugins: [volcanoDecor]
});

// ---------- HEAT MAP ----------
new Chart(document.getElementById("heat").getContext("2d"), {
  type: "bar",
  data: {
    labels: geneLabels,
    datasets: heatRows.map((row, i) => ({
      label: String(rowIds[i]),
      data: row.map(() => 1),
      backgroundColor: row.map((lv) => cellColor(lv * levelStep)),
      borderColor: "#1a1018",
      borderWidth: 1.5,
      barPercentage: 1,
      categoryPercentage: 1
    }))
  },
  options: {
    responsive: false,
    animation: false,
    devicePixelRatio: 1,
    layout: { autoPadding: false, padding: 0 },
    plugins: { legend: { display: false }, tooltip: { enabled: false } },
    scales: {
      x: {
        stacked: true,
        afterFit: (s) => { s.height = 135; s.paddingLeft = 0; s.paddingRight = 0; },
        grid: { display: false },
        border: { display: false },
        ticks: {
          autoSkip: false, minRotation: 90, maxRotation: 90, padding: 21, color: "#3c3c3c",
          font: { family: '"Liberation Sans Narrow", "Liberation Sans", sans-serif', size: 17 }
        }
      },
      y: { stacked: true, reverse: true, min: 0, max: 22, display: false }
    }
  }
});

// ---------- COLOUR BAR ----------
new Chart(document.getElementById("colorbar").getContext("2d"), {
  type: "bar",
  data: {
    datasets: [{
      data: pts(scaleLevels.map((v) => [v, 1])),
      backgroundColor: scaleLevels.map(cellColor),
      borderColor: "#111",
      borderWidth: { top: 2, bottom: 2, left: 0, right: 0 },
      borderSkipped: false,
      barPercentage: 1.02,
      categoryPercentage: 1
    }]
  },
  options: {
    responsive: false,
    animation: false,
    devicePixelRatio: 1,
    layout: { autoPadding: false, padding: { left: 60, right: 46, top: 8, bottom: 0 } },
    plugins: { legend: { display: false }, tooltip: { enabled: false } },
    scales: {
      x: {
        type: "linear", min: -2.93, max: 2.93, offset: false,
        afterFit: (s) => { s.height = 71; s.paddingLeft = 0; s.paddingRight = 0; },
        afterBuildTicks: (s) => { s.ticks = scaleTicks.map((value) => ({ value })); },
        grid: { display: false },
        border: { display: false },
        ticks: {
          autoSkip: false, maxRotation: 0, padding: 4, labelOffset: -9, color: "#000",
          font: { family: FONT, size: 46 },
          callback: (v) => String(v)
        }
      },
      y: { min: 0, max: 1, display: false }
    }
  }
});

// ---------- HTML PARTS ----------
const patches = document.getElementById("patches");
rowIds.forEach((id, i) => {
  const d = document.createElement("div");
  d.className = "patch";
  d.style.top = (1965 + i * 22.95) + "px";
  d.style.height = "23px";
  d.style.background = idColors[id];
  d.textContent = id;
  patches.appendChild(d);
});

const caption = document.getElementById("caption");
captionLines.forEach((text, i) => {
  const d = document.createElement("div");
  d.className = leftAlignedLines.includes(i) ? "line end" : "line";
  d.style.top = (294 + i * 70.35) + "px";
  d.innerHTML = text;
  caption.appendChild(d);
});
</script>
</body>
</html>
